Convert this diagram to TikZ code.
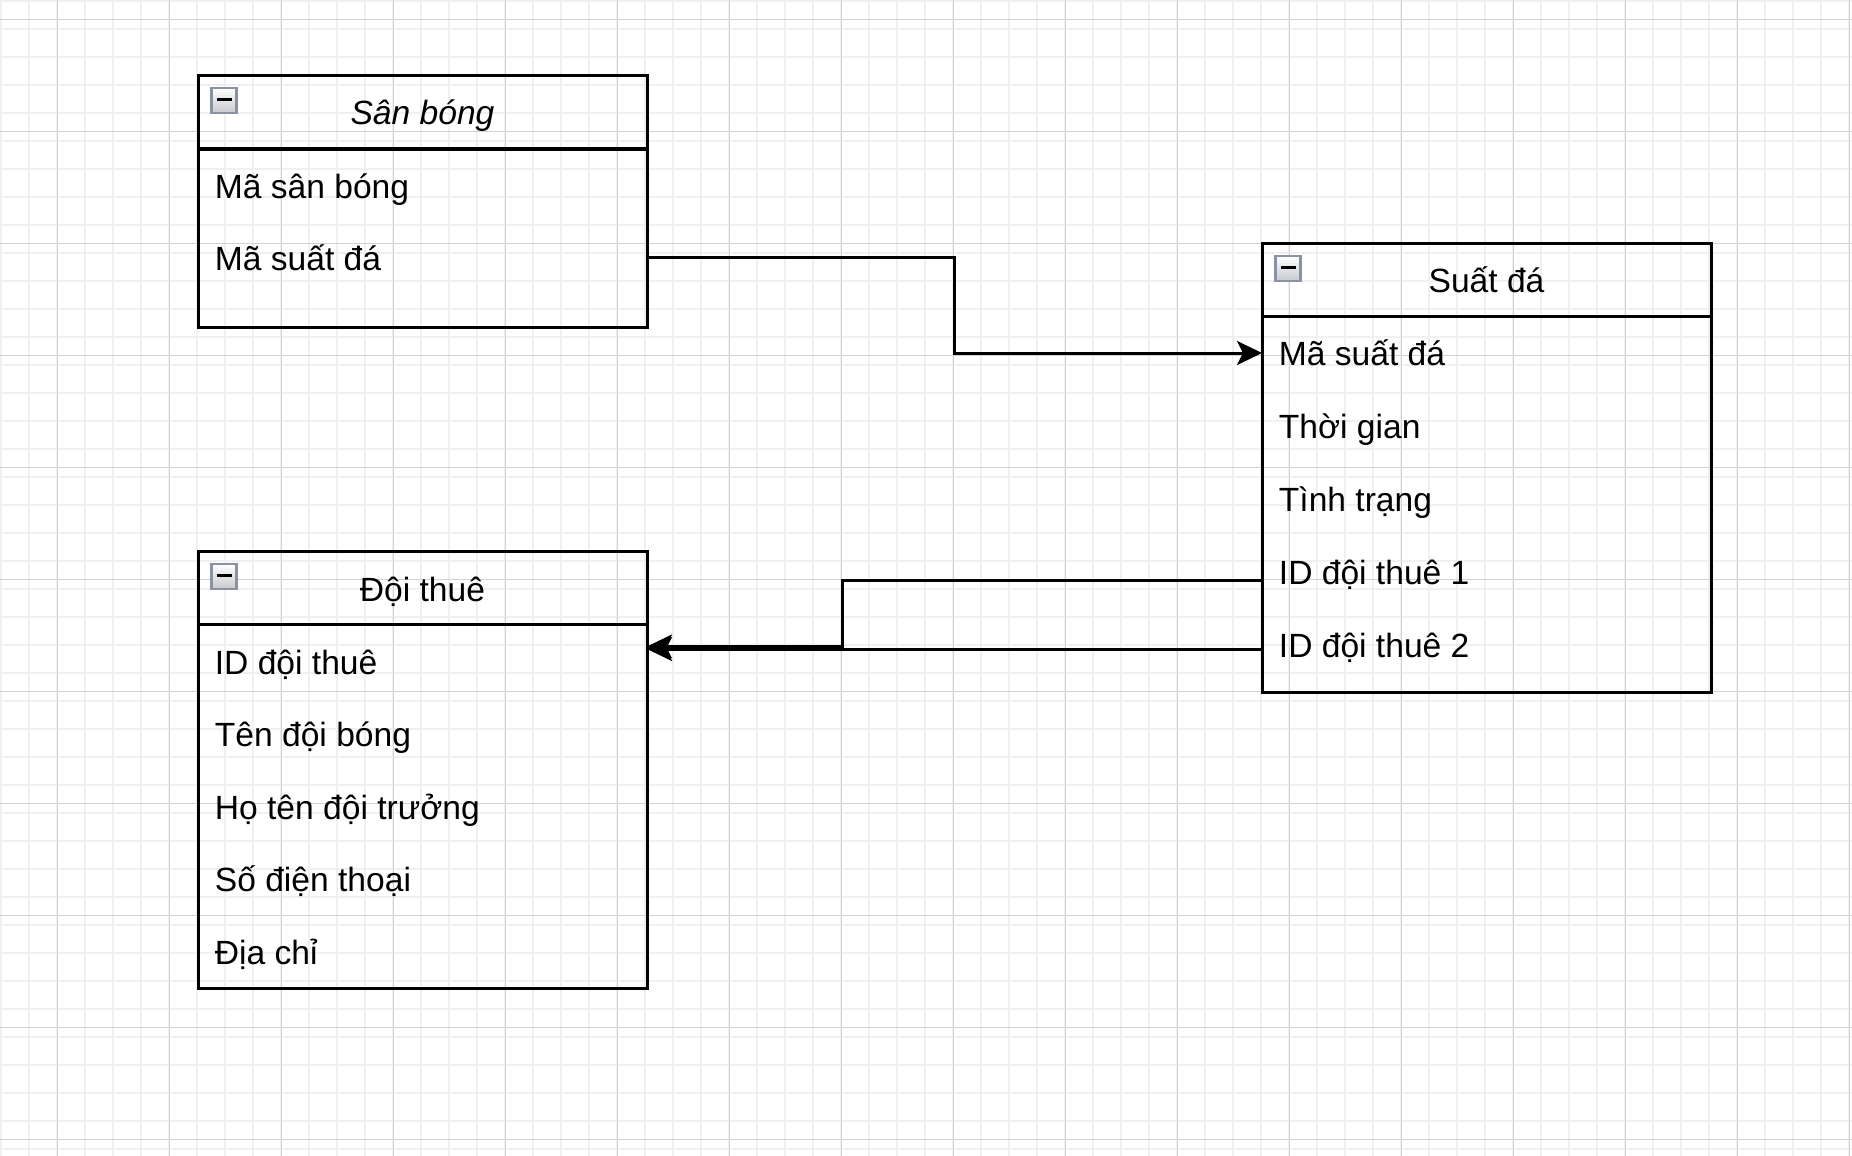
\documentclass[tikz,border=0pt]{standalone}
\usepackage{fontspec}
\setmainfont{Liberation Sans}
\usetikzlibrary{arrows.meta,calc}
\definecolor{gridmajor}{HTML}{D2D2D2}
\definecolor{gridminor}{HTML}{F0F0F0}
\definecolor{iconborder}{HTML}{8A93A3}
\definecolor{iconbottom}{HTML}{C6C9CE}
\begin{document}
\begin{tikzpicture}[x=0.5pt,y=-0.5pt,
  tbl/.style={draw=black,line width=1.5pt,inner sep=0pt,outer sep=0pt,anchor=north west,minimum width=224.5pt},
  rowbox/.style={inner sep=0pt,outer sep=0pt,minimum width=224.5pt,minimum height=36.5pt},
  rowtxt/.style={anchor=base west,inner sep=0pt,font=\fontsize{16.8pt}{19pt}\selectfont},
  titletxt/.style={anchor=base,inner sep=0pt,font=\fontsize{16.8pt}{19pt}\selectfont},
  conn/.style={line width=1.5pt,-{Stealth[length=12.5pt,width=12pt,inset=3pt]}},
  icon/.style={draw=iconborder,line width=1.1pt,top color=white,bottom color=iconbottom},
  hdrline/.style={line width=1.5pt}
]
\useasboundingbox (0,0) rectangle (1852,1156);
\fill[white] (0,0) rectangle (1852,1156);
% grid
\foreach \i in {0,...,66} \draw[gridminor,line width=0.9pt] ({1.3+28*\i},0) -- ({1.3+28*\i},1156);
\foreach \j in {0,...,41} \draw[gridminor,line width=0.9pt] (0,{1.3+28*\j}) -- (1852,{1.3+28*\j});
\foreach \i in {0,...,16} \draw[gridmajor,line width=0.6pt] ({57.3+112*\i},0) -- ({57.3+112*\i},1156);
\foreach \j in {0,...,10} \draw[gridmajor,line width=0.6pt] (0,{19.3+112*\j}) -- (1852,{19.3+112*\j});

% San bong
\node[tbl,minimum height=125.75pt] (sb) at (198,75.5) {};
\draw[hdrline] ($(sb.north west)+(0,73.5)$) -- ($(sb.north east)+(0,73.5)$);
\node[titletxt] (sbt) at ($(sb.north)+(0,124.2-75.5)$) {\itshape Sân bóng};
\node[rowbox] (sb1) at (422.5,185.5) {};
\node[rowbox] (sb2) at (422.5,258.0) {};
\node[rowtxt] (sb1t) at ($(sb1.west)+(16.5,12.7)$) {Mã sân bóng};
\node[rowtxt] (sb2t) at ($(sb2.west)+(16.5,12.2)$) {Mã suất đá};

% Suat da
\node[tbl,minimum height=224.25pt] (sd) at (1262,243.5) {};
\draw[hdrline] ($(sd.north west)+(0,73)$) -- ($(sd.north east)+(0,73)$);
\node[titletxt] (sdt) at ($(sd.north)+(0,49)$) {Suất đá};
\node[rowbox] (sd1) at (1486.5,353) {};
\node[rowbox] (sd2) at (1486.5,426) {};
\node[rowbox] (sd3) at (1486.5,499) {};
\node[rowbox] (sd4) at (1486.5,572) {};
\node[rowbox] (sd5) at (1486.5,645) {};
\node[rowtxt] (sd1t) at ($(sd1.west)+(16.5,12.3)$) {Mã suất đá};
\node[rowtxt] (sd2t) at ($(sd2.west)+(16.5,12.3)$) {Thời gian};
\node[rowtxt] (sd3t) at ($(sd3.west)+(16.5,12.3)$) {Tình trạng};
\node[rowtxt] (sd4t) at ($(sd4.west)+(16.5,12.3)$) {ID đội thuê 1};
\node[rowtxt] (sd5t) at ($(sd5.west)+(16.5,12.3)$) {ID đội thuê 2};

% Doi thue
\node[tbl,minimum height=218.5pt] (dt) at (198,551.5) {};
\draw[hdrline] ($(dt.north west)+(0,73)$) -- ($(dt.north east)+(0,73)$);
\node[titletxt] (dtt) at ($(dt.north)+(0,49.5)$) {Đội thuê};
\node[rowbox] (dt1) at (422.5,661.5) {};
\node[rowbox] (dt2) at (422.5,734) {};
\node[rowbox] (dt3) at (422.5,806.5) {};
\node[rowbox] (dt4) at (422.5,879) {};
\node[rowbox] (dt5) at (422.5,951.5) {};
\node[rowtxt] (dt1t) at ($(dt1.west)+(16.5,12.5)$) {ID đội thuê};
\node[rowtxt] (dt2t) at ($(dt2.west)+(16.5,12.5)$) {Tên đội bóng};
\node[rowtxt] (dt3t) at ($(dt3.west)+(16.5,12.5)$) {Họ tên đội trưởng};
\node[rowtxt] (dt4t) at ($(dt4.west)+(16.5,12.5)$) {Số điện thoại};
\node[rowtxt] (dt5t) at ($(dt5.west)+(16.5,12.5)$) {Địa chỉ};

% collapse icons
\foreach \b in {sb,sd,dt}{
  \draw[icon] ($(\b.north west)+(13.5,12.5)$) rectangle ($(\b.north west)+(38.5,37.5)$);
  \draw[line width=1.5pt,black] ($(\b.north west)+(18.5,24)$) -- ($(\b.north west)+(33.5,24)$);
}

% connectors
\draw[conn] ([yshift=0.25pt]sb2.east) -- ++(307.5,0) |- (sd1.west);
\draw[conn] ([yshift=-4.25pt]sd4.west) -- ++(-419.5,0) |- ([yshift=7.5pt]dt1.east);
\draw[conn] ([yshift=-2pt]sd5.west) -- ([yshift=6.25pt]dt1.east);
\end{tikzpicture}
\end{document}
